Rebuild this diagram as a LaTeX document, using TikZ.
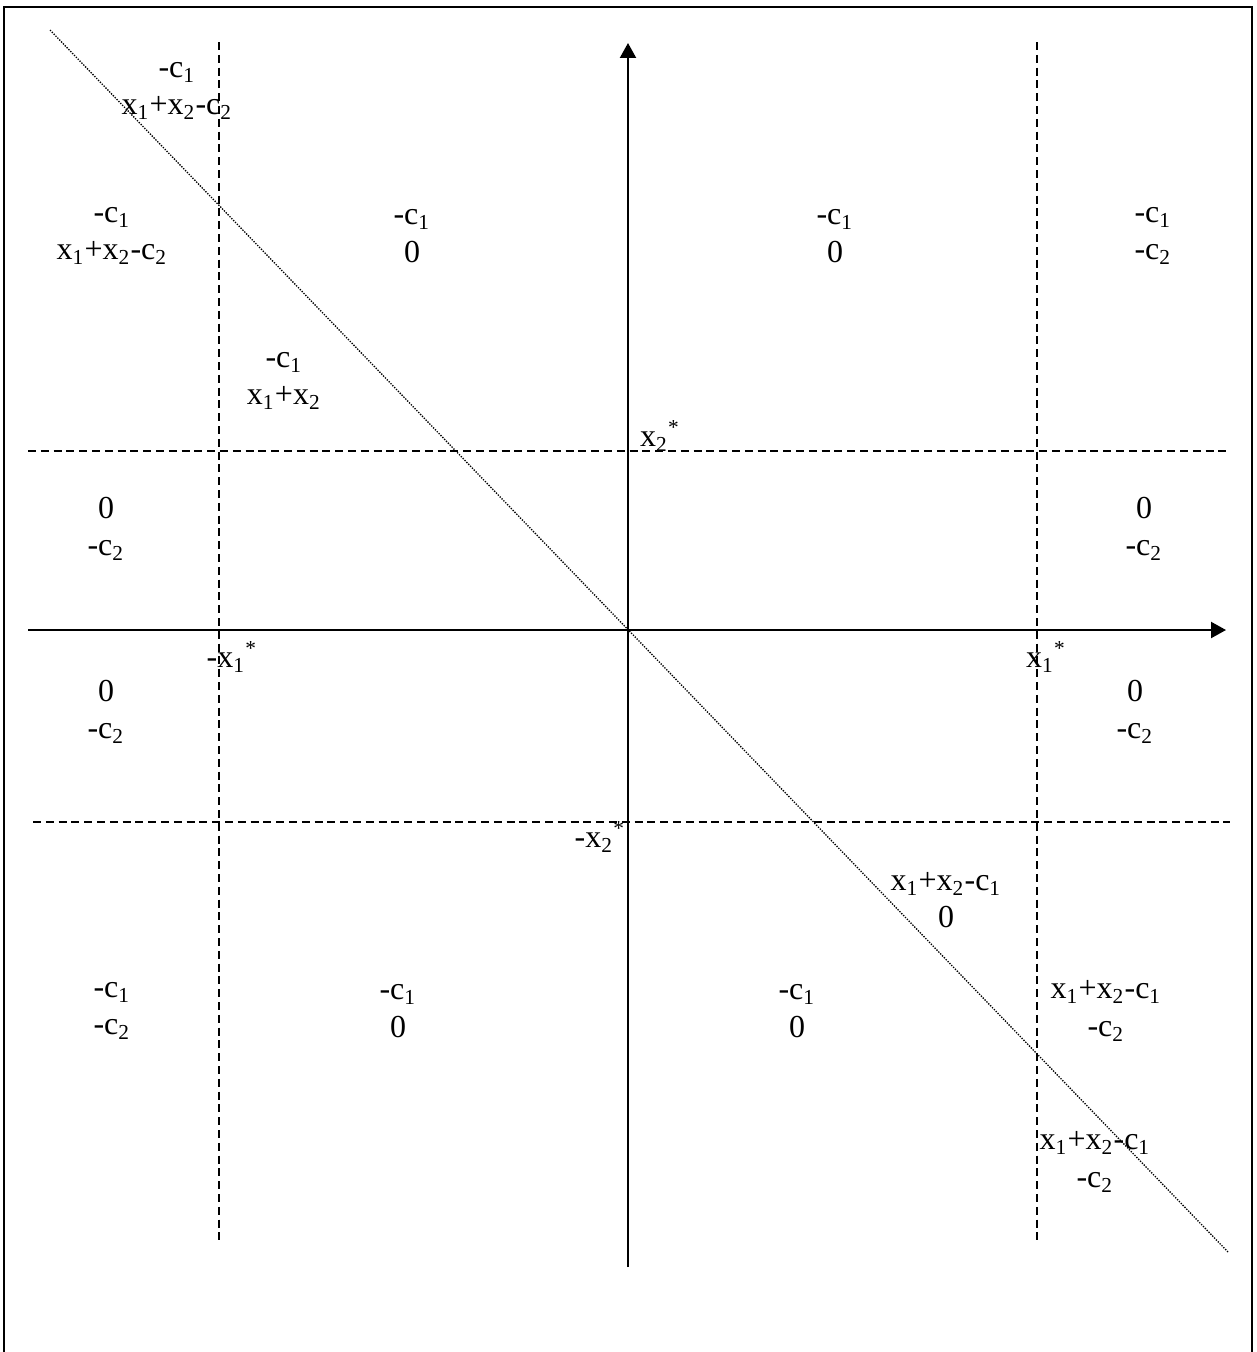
\documentclass[tikz,border=0pt]{standalone}
\usepackage{fontspec}
\setmainfont{Liberation Serif}
\usetikzlibrary{arrows.meta,positioning}
\tikzset{payoff/.style={align=center,inner sep=0pt,font=\fontsize{12}{14}\selectfont},
  axis/.style={-{Triangle[length=5.6pt,width=6pt]},line width=0.75pt},
  cut/.style={dash pattern=on 3pt off 1.8pt,line width=0.75pt},
  tie/.style={dash pattern=on 0.5pt off 0.5pt,line width=0.5pt},
  frame/.style={line width=1.1pt}}
\newcommand{\xs}[1]{x\textsubscript{#1}}
\newcommand{\cs}[1]{c\textsubscript{#1}}
\newcommand{\st}{\textsuperscript{*}}

\begin{document}
\begin{tikzpicture}[x=0.375pt,y=-0.375pt]
\useasboundingbox (0,0) rectangle (1257,1352);
\draw[frame] (4,1352) -- (4,7) -- (1252,7) -- (1252,1352);
% axes and thresholds
\coordinate (origin) at (628,630);
\coordinate (ytop) at (628,43);
\coordinate (ybot) at (628,1267);
\coordinate (xleft) at (28,630);
\coordinate (xright) at (1226,630);
\coordinate (wtop) at (219,42);
\coordinate (wbot) at (219,1240);
\coordinate (etop) at (1037,42);
\coordinate (ebot) at (1037,1240);
\coordinate (nleft) at (28,451);
\coordinate (nright) at (1226,451);
\coordinate (sleft) at (33,822);
\coordinate (sright) at (1230,822);
\coordinate (dstart) at (50,30);
\coordinate (dend) at (1228,1252);
\draw[axis] (ybot) -- (ytop);
\draw[axis] (xleft) -- (xright);
\draw[cut] (wtop) -- (wbot);
\draw[cut] (etop) -- (ebot);
\draw[cut] (nleft) -- (nright);
\draw[cut] (sleft) -- (sright);
\draw[tie] (dstart) -- (dend);
% payoffs
\node[payoff] (nwtop) at (177,91) {-\cs1\\\xs1+\xs2-\cs2};
\node[payoff] (nwcorner) at (112,236) {-\cs1\\\xs1+\xs2-\cs2};
\node[payoff] (nwmid) at (412,236) {-\cs1\\0};
\node[payoff] (nemid) at (835,236) {-\cs1\\0};
\node[payoff] (necorner) at (1153,236) {-\cs1\\-\cs2};
\node[payoff] (nwdiag) at (284,381) {-\cs1\\\xs1+\xs2};
\node[payoff] (wupper) at (106,529) {0\\-\cs2};
\node[payoff] (eupper) at (1144,529) {0\\-\cs2};
\node[payoff] (wlower) at (106,712) {0\\-\cs2};
\node[payoff] (elower) at (1135,712) {0\\-\cs2};
\node[payoff] (sediag) at (946,900) {\xs1+\xs2-\cs1\\0};
\node[payoff] (swcorner) at (112,1011) {-\cs1\\-\cs2};
\node[payoff] (swmid) at (398,1011) {-\cs1\\0};
\node[payoff] (semid) at (797,1011) {-\cs1\\0};
\node[payoff] (secorner) at (1106,1011) {\xs1+\xs2-\cs1\\-\cs2};
\node[payoff] (sebottom) at (1095,1162) {\xs1+\xs2-\cs1\\-\cs2};
% thresholds
\node[payoff] (x2star) at (660,436) {\xs2\st};
\node[payoff] (mx2star) at (600,837) {-\xs2\st};
\node[payoff] (mx1star) at (232,657) {-\xs1\st};
\node[payoff] (x1star) at (1046,657) {\xs1\st};
\end{tikzpicture}
\end{document}
